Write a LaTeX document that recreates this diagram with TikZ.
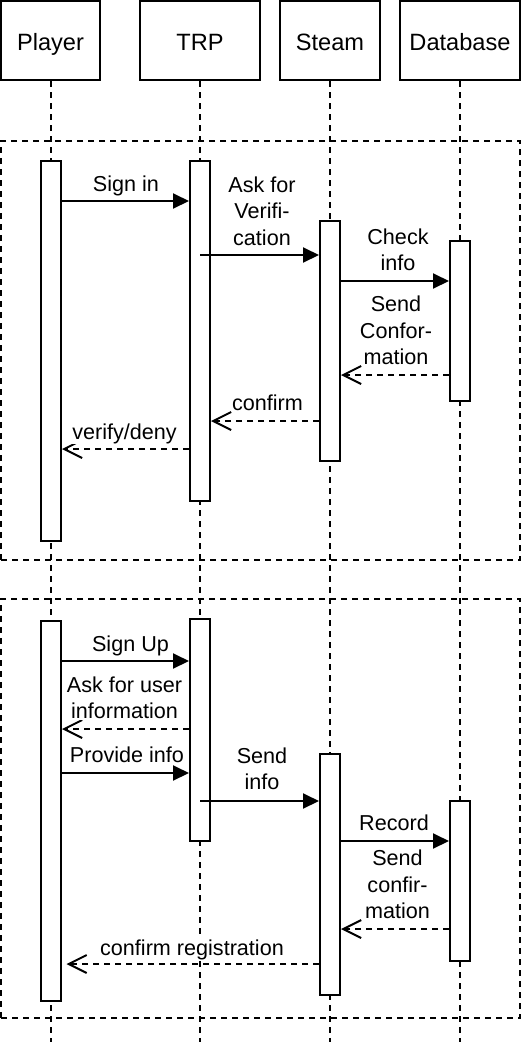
\documentclass[tikz,border=0pt]{standalone}
\usepackage{fontspec}
\setmainfont{Liberation Sans}
\usetikzlibrary{arrows.meta}
\begin{document}
\begin{tikzpicture}[x=1pt,y=-1pt,line width=2pt,
  hdr/.style={draw,fill=white,minimum height=79pt,inner sep=0pt,
    font=\fontsize{23.6}{28}\selectfont,text height=19pt,text depth=0pt},
  life/.style={dash pattern=on 6pt off 5pt},
  frm/.style={draw,dash pattern=on 6pt off 5pt,minimum width=519pt,minimum height=419pt,inner sep=0pt},
  act/.style={draw,fill=white,minimum width=20pt,inner sep=0pt},
  sync/.style={-{Triangle[length=16pt,width=15pt]}},
  ret/.style={dash pattern=on 6pt off 5pt,-{Straight Barb[length=18pt,width=18pt]}},
  lbl/.style={fill=white,inner sep=0.5pt,align=center,
    font=\fontsize{21.6}{26.5}\selectfont},
]
\useasboundingbox (0,0) rectangle (524,1042);
\coordinate (bot) at (0,1042);
% headers
\node[hdr,minimum width=99pt] (ph) at (50.5,40.5) {Player};
\node[hdr,minimum width=120pt] (th) at (200,40.5) {TRP};
\node[hdr,minimum width=100pt] (sh) at (330,40.5) {Steam};
\node[hdr,minimum width=120pt] (dh) at (460,40.5) {Database};
% lifelines
\draw[life] (ph.south) -- (ph.south |- bot);
\draw[life] (th.south) -- (th.south |- bot);
\draw[life] (sh.south) -- (sh.south |- bot);
\draw[life] (dh.south) -- (dh.south |- bot);
% frames
\node[frm] (f1) at (260.5,350.5) {};
\node[frm] (f2) at (260.5,808.5) {};
% activations frame 1
\node[act,minimum height=380pt] (pa1) at (51,351) {};
\node[act,minimum height=340pt] (ta1) at (200,331) {};
\node[act,minimum height=240pt] (sa1) at (330,341) {};
\node[act,minimum height=160pt] (da1) at (460,321) {};
% activations frame 2
\node[act,minimum height=380pt] (pa2) at (51,811) {};
\node[act,minimum height=222pt] (ta2) at (200,730) {};
\node[act,minimum height=241pt] (sa2) at (330,874.5) {};
\node[act,minimum height=160pt] (da2) at (460,881) {};
% message levels
\coordinate (m1) at (0,201);
\coordinate (m2) at (0,255);
\coordinate (m3) at (0,281);
\coordinate (m4) at (0,375);
\coordinate (m5) at (0,421);
\coordinate (m6) at (0,449);
\coordinate (n1) at (0,661);
\coordinate (n2) at (0,729);
\coordinate (n3) at (0,773);
\coordinate (n4) at (0,801);
\coordinate (n5) at (0,841);
\coordinate (n6) at (0,929);
\coordinate (n7) at (0,964);
\coordinate (n7e) at (66.5,964);
% frame 1 messages
\draw[sync] (pa1.east |- m1) -- (ta1.west |- m1);
\draw[sync] (ta1.center |- m2) -- (sa1.west |- m2);
\draw[sync] (sa1.east |- m3) -- (da1.west |- m3);
\draw[ret] (da1.west |- m4) -- (sa1.east |- m4);
\draw[ret] (sa1.west |- m5) -- (ta1.east |- m5);
\draw[ret] (ta1.west |- m6) -- (pa1.east |- m6);
% frame 2 messages
\draw[sync] (pa2.east |- n1) -- (ta2.west |- n1);
\draw[ret] (ta2.west |- n2) -- (pa2.east |- n2);
\draw[sync] (pa2.east |- n3) -- (ta2.west |- n3);
\draw[sync] (ta2.center |- n4) -- (sa2.west |- n4);
\draw[sync] (sa2.east |- n5) -- (da2.west |- n5);
\draw[ret] (da2.west |- n6) -- (sa2.east |- n6);
% labels frame 1
\node[lbl,anchor=base] (l1) at (126,191.7) {Sign in};
\node[lbl] (l2) at (262,211) {Ask for\\Verifi-\\cation};
\node[lbl] (l3) at (398,250) {Check\\info};
\node[lbl] (l4) at (396,330.5) {Send\\Confor-\\mation};
\node[lbl,anchor=base] (l5) at (267.5,410.7) {confirm};
\node[lbl,anchor=base] (l6) at (124.5,439) {verify/deny};
% labels frame 2
\node[lbl,anchor=base] (k1) at (130.5,651) {Sign Up};
\node[lbl] (k2) at (124.5,698) {Ask for user\\information};
\node[lbl,anchor=base] (k3) at (127,762.3) {Provide info};
\node[lbl] (k4) at (262,769) {Send\\info};
\node[lbl,anchor=base] (k5) at (394,830) {Record};
\node[lbl] (k6) at (397.5,884.5) {Send\\confir-\\mation};
\draw[ret] (sa2.west |- n7) -- (n7e);
\node[lbl,anchor=base] (k7) at (192,955) {confirm registration};
\end{tikzpicture}
\end{document}
